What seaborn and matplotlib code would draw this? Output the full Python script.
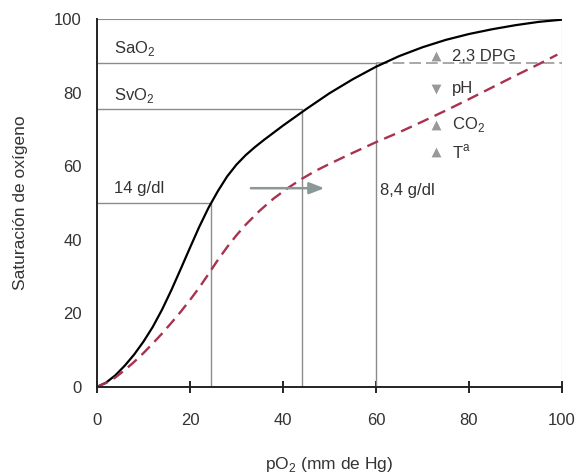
import numpy as np
import pandas as pd
import seaborn as sns
import matplotlib.pyplot as plt

# curva normal (Hb 14 g/dl)
po2_normal = [0, 2, 4, 6, 8, 10, 12, 14, 16, 18, 20, 22, 24, 26, 28, 30, 32, 34, 36, 38,
              40, 42, 45, 50, 55, 60, 65, 70, 75, 80, 85, 90, 95, 100]
sat_normal = [0, 1.2, 3.2, 5.8, 8.8, 12.3, 16.3, 21, 26.3, 32, 37.8, 43.5, 48.7, 53.2,
              57.2, 60.4, 63.0, 65.2, 67.2, 69.1, 71.0, 72.8, 75.5, 79.8, 83.6, 87.0,
              89.9, 92.3, 94.3, 95.9, 97.2, 98.3, 99.2, 99.8]

# curva desplazada a la derecha (8,4 g/dl)
po2_shift = [0, 2, 4, 6, 8, 10, 12, 14, 16, 18, 20, 22, 24, 26, 28, 30, 32, 35, 38, 41,
             44, 47, 50, 55, 60, 65, 70, 75, 80, 85, 90, 95, 99]
sat_shift = [0, 1.1, 2.6, 4.6, 6.8, 9.2, 11.8, 14.5, 17.4, 20.4, 23.6, 27, 30.7, 34.5,
             38, 41.2, 44.1, 47.9, 51.2, 54, 56.5, 58.7, 60.6, 63.6, 66.5, 69.2, 72.1,
             75.1, 78.2, 81.4, 84.6, 87.7, 90.3]

# lineas de referencia: (pO2, saturacion)
sao2 = (60, 88)
svo2 = (44, 75.5)
hb14 = (24.6, 50)

factores = ["2,3 DPG", "pH", "CO$_\\mathregular{2}$", "T$^\\mathregular{a}$"]
factor_dir = ["^", "v", "^", "^"]
factor_y = [89.8, 81.0, 71.2, 63.9]

sns.set_style("white")
plt.rcParams['font.family'] = ['Liberation Sans', 'DejaVu Sans']
plt.rcParams['mathtext.fontset'] = 'custom'
plt.rcParams['mathtext.rm'] = 'Liberation Sans'

txt = "#333333"
guia = "#8c8c8c"
fs = 12

fig = plt.figure(figsize=(5.77, 4.73), dpi=100)
ax = fig.add_axes([0.168, 0.182, 0.806, 0.778])

# lineas guia
ax.plot([0, sao2[0]], [sao2[1], sao2[1]], color=guia, lw=1)
ax.plot([sao2[0], 100], [sao2[1], sao2[1]], color="#999999", lw=1.2, ls=(0, (7, 3)))
ax.plot([sao2[0], sao2[0]], [0, sao2[1]], color=guia, lw=1)
ax.plot([0, svo2[0], svo2[0]], [svo2[1], svo2[1], 0], color=guia, lw=1)
ax.plot([0, hb14[0], hb14[0]], [hb14[1], hb14[1], 0], color=guia, lw=1)
ax.plot([0, 100, 100], [100, 100, 0], color=guia, lw=0.8)

df_n = pd.DataFrame({"pO2": po2_normal, "sat": sat_normal})
df_s = pd.DataFrame({"pO2": po2_shift, "sat": sat_shift})
sns.lineplot(data=df_n, x="pO2", y="sat", ax=ax, color="black", lw=1.6, sort=False)
sns.lineplot(data=df_s, x="pO2", y="sat", ax=ax, color="#a8334f", lw=1.7,
             sort=False, dashes=False, linestyle=(0, (5, 2.8)))

# flecha de desplazamiento
ax.annotate("", xy=(49.5, 54), xytext=(32.5, 54),
            arrowprops=dict(arrowstyle="-|>,head_length=0.9,head_width=0.35",
                            color="#8a9898", lw=1.8))

ax.text(3.6, 92, "SaO$_\\mathregular{2}$", fontsize=fs, color=txt, va="center")
ax.text(3.6, 79.3, "SvO$_\\mathregular{2}$", fontsize=fs, color=txt, va="center")
ax.text(3.6, 54, "14 g/dl", fontsize=fs, color=txt, va="center")
ax.text(60.9, 53.5, "8,4 g/dl", fontsize=fs, color=txt, va="center")

for lab, mk, yy in zip(factores, factor_dir, factor_y):
    ax.scatter([73], [yy], marker=mk, s=50, color="#999999", zorder=3, linewidths=0)
    ax.text(76.4, yy, lab, fontsize=fs, color=txt, va="center")

ax.set_xlim(0, 100)
ax.set_ylim(0, 100)
ax.set_xticks([0, 20, 40, 60, 80, 100])
ax.set_yticks([0, 20, 40, 60, 80, 100])
ax.tick_params(axis="x", direction="inout", length=9, width=1.2, color="black",
               pad=14, labelsize=fs, labelcolor=txt, bottom=True)
ax.tick_params(axis="y", length=0, pad=11, labelsize=fs, labelcolor=txt)
ax.spines["top"].set_visible(False)
ax.spines["right"].set_visible(False)
for s in ["left", "bottom"]:
    ax.spines[s].set_color("#222222")
    ax.spines[s].set_linewidth(1.4)

ax.set_xlabel("pO$_\\mathregular{2}$ (mm de Hg)", fontsize=12.5, color=txt, labelpad=20)
ax.set_ylabel("Saturación de oxígeno", fontsize=12.5, color=txt, labelpad=19)

fig.savefig("out.png", dpi=100)
